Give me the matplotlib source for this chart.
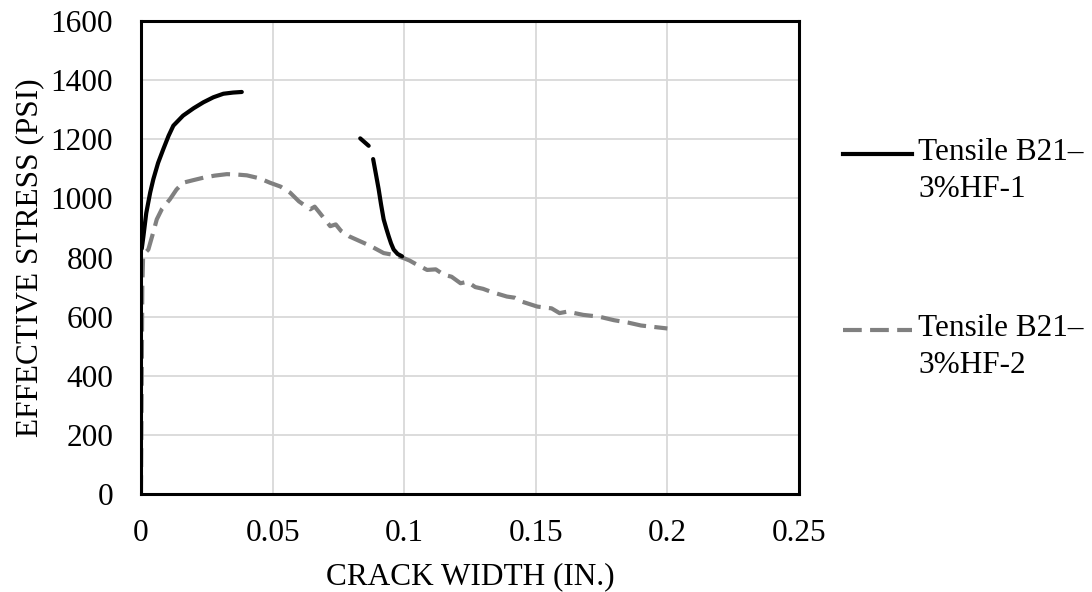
import numpy as np
import matplotlib.pyplot as plt
from matplotlib.lines import Line2D

# crack width (in.) vs effective stress (psi)
crack_1 = [0.0003, 0.0006, 0.0009, 0.002, 0.0035, 0.0047, 0.0065, 0.0085, 0.0105, 0.0123, 0.016,
           0.020, 0.0237, 0.0275, 0.0313, 0.035, 0.0383,
           np.nan, 0.0833, 0.0865, np.nan,
           0.0882, 0.0893, 0.0903, 0.0912, 0.0922, 0.0932, 0.0941, 0.095, 0.096, 0.0975, 0.0992]
stress_1 = [830, 850, 870, 950, 1020, 1065, 1120, 1167, 1212, 1246, 1280,
            1305, 1325, 1342, 1354, 1358, 1360,
            np.nan, 1203, 1178, np.nan,
            1133, 1080, 1031, 980, 929, 898, 872, 848, 827, 812, 804]

crack_2 = [0.0, 0.0003, 0.0005, 0.0008, 0.0015, 0.0028, 0.0045, 0.006, 0.008, 0.011, 0.0135, 0.016,
           0.020, 0.0237, 0.028, 0.0326, 0.036, 0.0402, 0.045, 0.049, 0.053, 0.0567, 0.060,
           0.0643, 0.066, 0.068, 0.0719, 0.074, 0.076, 0.079, 0.082, 0.087, 0.0922, 0.0965, 0.0998,
           0.102, 0.104, 0.1087, 0.112, 0.115, 0.118, 0.1214, 0.124, 0.127, 0.130, 0.133, 0.139,
           0.142, 0.145, 0.1506, 0.156, 0.159, 0.162, 0.168, 0.174,
           0.1797, 0.185, 0.190, 0.195, 0.200]
stress_2 = [0, 400, 700, 800, 815, 827, 880, 929, 965, 997, 1030, 1053,
            1062, 1070, 1077, 1082, 1081, 1078, 1068, 1053, 1040, 1019, 990,
            963, 972, 950, 906, 912, 890, 872, 860, 840, 815, 808, 798,
            790, 780, 758, 760, 742, 735, 713, 718, 700, 694, 684, 668,
            664, 650, 634, 628, 612, 617, 606, 600,
            588, 580, 570, 565, 560]

labels = ['Tensile B21–\n3%HF-1', 'Tensile B21–\n3%HF-2']

plt.rcParams['font.family'] = ['Liberation Serif', 'DejaVu Serif']
plt.rcParams['font.size'] = 22.5

fig = plt.figure(figsize=(10.92, 5.92), dpi=100)
ax = fig.add_axes([0.1291, 0.1655, 0.6026, 0.799])

ax.plot(crack_1, stress_1, color='black', lw=3, solid_capstyle='round', zorder=3)
ax.plot(crack_2, stress_2, color='#808080', lw=3, linestyle=(0, (4.5, 2)), zorder=2)

ax.set_xlim(0, 0.25)
ax.set_ylim(0, 1600)
ax.set_xticks([0, 0.05, 0.1, 0.15, 0.2, 0.25])
ax.set_xticklabels(['0', '0.05', '0.1', '0.15', '0.2', '0.25'])
ax.set_yticks(np.arange(0, 1601, 200))
ax.tick_params(axis='x', length=0, pad=18)
ax.tick_params(axis='y', length=0, pad=20)
ax.grid(True, color='#d9d9d9', lw=1.3)
ax.set_axisbelow(True)
for s in ax.spines.values():
    s.set_linewidth(2.2)
    s.set_color('black')

ax.set_xlabel('CRACK WIDTH (IN.)', labelpad=10)
ax.set_ylabel('EFFECTIVE STRESS (PSI)', labelpad=5)

# legend drawn by hand: handle lines up with the first text line
styles = [dict(color='black', lw=3), dict(color='#808080', lw=3, linestyle=(0, (4.5, 2)))]
handle_y = [1 - 154 / 592, 1 - 330 / 592]
for lab, st, hy in zip(labels, styles, handle_y):
    fig.add_artist(Line2D([843 / 1092, 912 / 1092], [hy, hy], transform=fig.transFigure, **st))
    fig.text(918 / 1092, hy + 16 / 592, lab, ha='left', va='top', linespacing=1.35)

fig.savefig('out.png', dpi=100)
